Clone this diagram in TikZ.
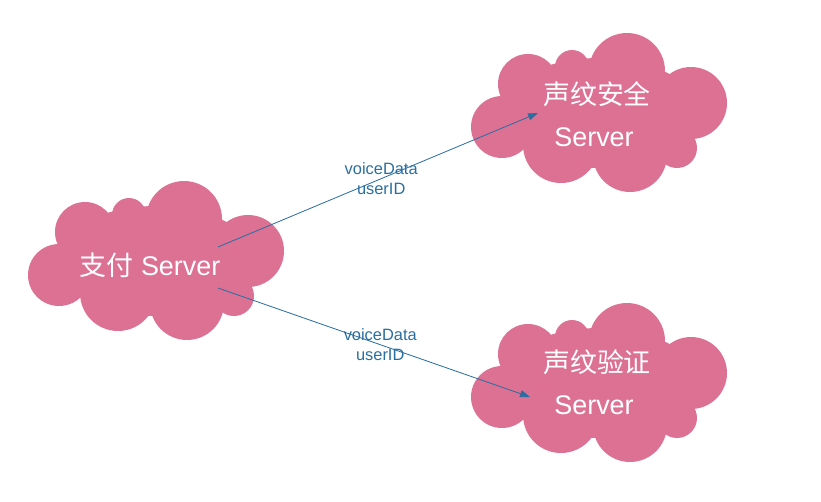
\documentclass[tikz,border=0pt]{standalone}
\usepackage{fontspec}
\setmainfont{Liberation Sans}
\newfontfamily\cjk{Noto Sans CJK SC}
\usetikzlibrary{arrows.meta}
\definecolor{cloudpink}{RGB}{220,113,148}
\definecolor{linkblue}{RGB}{41,110,160}

\begin{document}
\begin{tikzpicture}[x=0.03cm,y=-0.03cm,
  puff/.style={fill=cloudpink,draw=none},
  server/.style={text=white,font=\fontsize{23}{28}\selectfont,inner sep=0pt},
  link/.style={draw=linkblue,line width=0.7pt,-{Triangle[length=8.5pt,width=6pt]}},
  msg/.style={text=linkblue,font=\fontsize{14}{16.5}\selectfont,align=center,inner sep=0pt}]
\useasboundingbox (0,0) rectangle (821,501);

% clouds
\foreach \cx/\cy in {156/261, 599/113, 599/383} {
  \begin{scope}[shift={(\cx,\cy)}]
  \fill[puff] (0,0) ellipse (100 and 55);
  \fill[puff] (-97,14) circle (31);
  \fill[puff] (-71,-29) circle (30);
  \fill[puff] (-27,-46) circle (17);
  \fill[puff] (28,-42) circle (38);
  \fill[puff] (92,-10) circle (36);
  \fill[puff] (78,35) circle (20);
  \fill[puff] (31,42) circle (37);
  \fill[puff] (-38,32) circle (38);
  \end{scope}
}

\node[server] (pay) at (150,265) {{\cjk 支付} Server};

\node[server] (safe) at (597,94) {\cjk 声纹安全};
\node[server] (safesrv) at (594,137) {Server};

\node[server] (verify) at (597,362) {\cjk 声纹验证};
\node[server] (verifysrv) at (594,405) {Server};

\coordinate (pay-up) at (218,247);
\coordinate (pay-down) at (218,288);
\coordinate (safe-in) at (538,113);
\coordinate (verify-in) at (530,397);

\draw[link] (pay-up) -- node[msg,pos=0.51] {voiceData\\userID} (safe-in);
\draw[link] (pay-down) -- node[msg,pos=0.52] {voiceData\\userID} (verify-in);

\end{tikzpicture}
\end{document}
